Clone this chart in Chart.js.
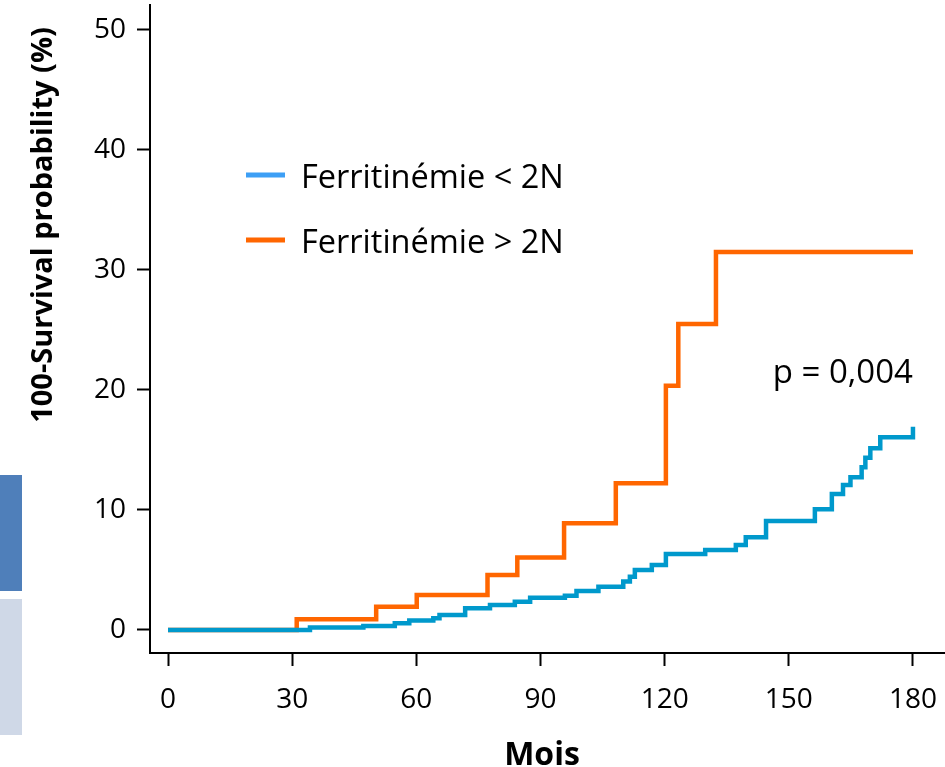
<!DOCTYPE html>
<html>
<head>
<meta charset="utf-8">
<script src="https://cdn.jsdelivr.net/npm/chart.js@4/dist/chart.umd.min.js"></script>
<style>
    body { margin: 0; background: #fff; }
    #wrap { width: 945px; height: 767px; }
</style>
</head>
<body>
<div id="wrap"><canvas id="kmChart" width="945" height="767"></canvas></div>
<script>
// Kaplan-Meier steps (months, 100 - survival %)
const lowMonths = [0, 34.3, 47.2, 54.8, 58.3, 64.1, 65.6, 71.8, 77.8, 83.8, 87.5, 95.9, 98.7, 104, 110, 111.6, 112.8, 116.9, 120.3, 129.8, 137.2, 139.6, 144.5, 156.3, 160.4, 163.1, 164.9, 167.6, 168.5, 169.7, 172.1, 180];
const lowValues = [0, 0.2, 0.33, 0.56, 0.78, 0.97, 1.25, 1.81, 2.08, 2.36, 2.69, 2.86, 3.25, 3.61, 4.03, 4.44, 5.0, 5.42, 6.33, 6.67, 7.08, 7.72, 9.08, 10.06, 11.33, 12.08, 12.72, 13.56, 14.36, 15.14, 16.06, 16.94];
const highMonths = [0, 31.1, 50.3, 60.1, 77.2, 84.4, 95.7, 108.2, 120.3, 123.3, 132.4, 180];
const highValues = [0, 0.9, 1.94, 2.92, 4.58, 6.03, 8.89, 12.22, 20.36, 25.5, 31.5, 31.5];

const seriesLabels = ['Ferritinémie < 2N', 'Ferritinémie > 2N'];
const xTickValues = [0, 30, 60, 90, 120, 150, 180];
const yTickValues = [0, 10, 20, 30, 40, 50];
const pValueText = 'p = 0,004';

const lineColors = ['#0099cc', '#ff6600'];
const legendColors = ['#3d9ff5', '#ff6600'];

function toPoints(xs, ys) {
    return xs.map(function (x, i) { return { x: x, y: ys[i] }; });
}

// Extra drawing: slide fragments on the left, axis titles, legend, p value
const decorPlugin = {
    id: 'decor',
    beforeDraw: function (chart) {
        const ctx = chart.ctx;
        ctx.save();
        ctx.fillStyle = '#4f7fba';
        ctx.fillRect(0, 475, 22, 116);
        ctx.fillStyle = '#cfd8e7';
        ctx.fillRect(0, 599, 22, 136);
        ctx.restore();
    },
    afterDraw: function (chart) {
        const ctx = chart.ctx;
        const xScale = chart.scales.x;
        const yScale = chart.scales.y;
        ctx.save();
        ctx.fillStyle = '#000';

        // y title
        ctx.save();
        ctx.translate(44, 225);
        ctx.rotate(-Math.PI / 2);
        ctx.font = 'bold 29px "Open Sans"';
        ctx.textAlign = 'center';
        ctx.textBaseline = 'middle';
        ctx.fillText('100-Survival probability (%)', 0, 0);
        ctx.restore();

        // x title
        ctx.font = 'bold 32px "Open Sans"';
        ctx.textAlign = 'center';
        ctx.textBaseline = 'alphabetic';
        ctx.fillText('Mois', 542, 765);

        // legend
        ctx.font = '32.5px "Open Sans"';
        ctx.textAlign = 'left';
        chart.data.datasets.forEach(function (ds, i) {
            const y = 175 + i * 65;
            ctx.strokeStyle = legendColors[i];
            ctx.lineWidth = 5;
            ctx.beginPath();
            ctx.moveTo(246, y);
            ctx.lineTo(285, y);
            ctx.stroke();
            ctx.fillText(ds.label, 301, y + 13);
        });

        // p value
        ctx.font = '33px "Open Sans"';
        ctx.textAlign = 'right';
        ctx.fillText(pValueText, xScale.getPixelForValue(180), yScale.getPixelForValue(20.55));
        ctx.restore();
    }
};

const tickFont = { family: 'Open Sans', size: 28 };

new Chart(document.getElementById('kmChart'), {
    type: 'line',
    data: {
        datasets: [
            {
                label: seriesLabels[0],
                data: toPoints(lowMonths, lowValues),
                borderColor: lineColors[0],
                borderWidth: 4.5,
                pointRadius: 0,
                stepped: true,
                fill: false
            },
            {
                label: seriesLabels[1],
                data: toPoints(highMonths, highValues),
                borderColor: lineColors[1],
                borderWidth: 4.5,
                pointRadius: 0,
                stepped: true,
                fill: false
            }
        ]
    },
    options: {
        responsive: false,
        animation: false,
        layout: { padding: { top: 5, right: 1, left: 0, bottom: 0 } },
        plugins: {
            legend: { display: false },
            tooltip: { enabled: false }
        },
        scales: {
            x: {
                type: 'linear',
                min: -4.35,
                max: 187.5,
                afterBuildTicks: function (scale) {
                    scale.ticks = xTickValues.map(function (v) { return { value: v }; });
                },
                afterFit: function (scale) {
                    scale.height = 114;
                    scale.paddingLeft = 0;
                    scale.paddingRight = 0;
                },
                border: { display: true, color: '#000', width: 2 },
                grid: { drawOnChartArea: false, drawTicks: true, tickLength: 13, tickColor: '#000', tickWidth: 2 },
                ticks: { color: '#000', font: tickFont, padding: 17, maxRotation: 0 }
            },
            y: {
                type: 'linear',
                min: -1.92,
                max: 52.08,
                afterBuildTicks: function (scale) {
                    scale.ticks = yTickValues.map(function (v) { return { value: v }; });
                },
                afterFit: function (scale) {
                    scale.width = 150;
                    scale.paddingTop = 0;
                    scale.paddingBottom = 0;
                },
                border: { display: true, color: '#000', width: 2 },
                grid: { drawOnChartArea: false, drawTicks: true, tickLength: 13, tickColor: '#000', tickWidth: 2 },
                ticks: { color: '#000', font: tickFont, padding: 11 }
            }
        }
    },
    plugins: [decorPlugin]
});
</script>
</body>
</html>
